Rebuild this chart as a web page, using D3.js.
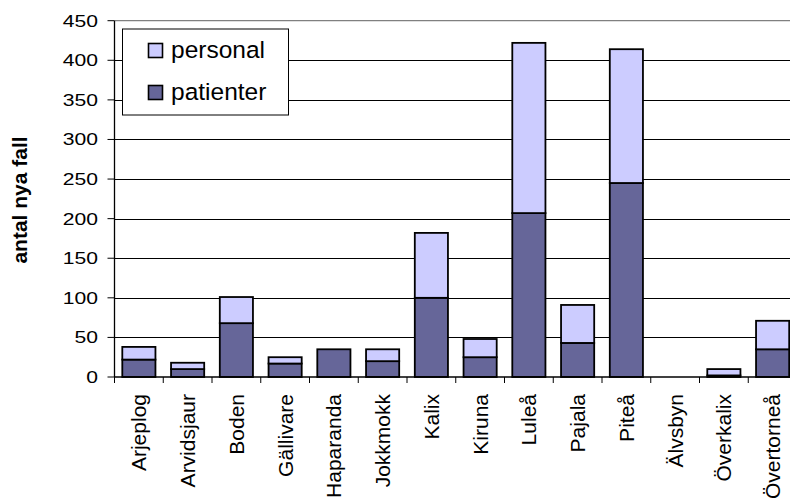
<!DOCTYPE html>
<html><head><meta charset="utf-8">
<script src="https://cdn.jsdelivr.net/npm/d3@7"></script>
<style>
html,body{margin:0;padding:0;background:#fff;overflow:hidden}
text{font-family:"Liberation Sans",Arial,sans-serif;fill:#000}
</style></head>
<body>
<svg id="chart" width="790" height="502"></svg>
<script>
const categories = ["Arjeplog","Arvidsjaur","Boden","Gällivare","Haparanda","Jokkmokk","Kalix","Kiruna","Luleå","Pajala","Piteå","Älvsbyn","Överkalix","Övertorneå"];
const patienter = [22,10,68,17,35,20,100,25,207,43,245,0,2,35];
const personal  = [16,8,33,8,0,15,82,23,215,48,169,0,8,36];
const yTicks = [0,50,100,150,200,250,300,350,400,450];
const seriesNames = ["personal","patienter"];
const colors = {patienter:"#666699", personal:"#CCCCFF"};

const svg = d3.select("#chart");
const pLeft = 114.5, pRight = 797, pTop = 20.7, pBottom = 377;

const x = d3.scaleBand().domain(categories).range([pLeft, pRight]).paddingInner(0.32).paddingOuter(0.16);
const y = d3.scaleLinear().domain([0,450]).range([pBottom, pTop]);

// gridlines
svg.append("g").selectAll("line").data(yTicks.filter(t => t > 0 && t < 450)).join("line")
  .attr("x1", pLeft).attr("x2", pRight)
  .attr("y1", d => Math.round(y(d)) + 0.5).attr("y2", d => Math.round(y(d)) + 0.5)
  .attr("stroke", "#000").attr("stroke-width", 1);
// plot area top border (gray)
svg.append("line").attr("x1", pLeft).attr("x2", pRight).attr("y1", y(450)).attr("y2", y(450))
  .attr("stroke", "#808080").attr("stroke-width", 1.3);

// stacked data
const rows = categories.map((c,i) => ({cat:c, patienter:patienter[i], personal:personal[i]}));
const stack = d3.stack().keys(["patienter","personal"])(rows);

const barG = svg.append("g");
stack.forEach(layer => {
  barG.append("g").selectAll("rect").data(layer.filter(d => d[1] - d[0] > 0)).join("rect")
    .attr("x", d => x(d.data.cat))
    .attr("width", x.bandwidth())
    .attr("y", d => y(d[1]))
    .attr("height", d => y(d[0]) - y(d[1]))
    .attr("fill", colors[layer.key])
    .attr("stroke", "#000").attr("stroke-width", 1.8);
});

// y axis
svg.append("line").attr("x1", pLeft).attr("x2", pLeft).attr("y1", pTop).attr("y2", pBottom)
  .attr("stroke","#000").attr("stroke-width",1.3);
svg.append("g").selectAll("line").data(yTicks).join("line")
  .attr("x1", pLeft - 7).attr("x2", pLeft).attr("y1", d => y(d)).attr("y2", d => y(d))
  .attr("stroke","#000").attr("stroke-width",1);
svg.append("g").selectAll("text").data(yTicks).join("text")
  .attr("transform", d => `translate(98,${y(d)}) scale(1.28,1)`)
  .attr("text-anchor","end").attr("dy","0.36em")
  .style("font-size","16.5px")
  .text(d => d);

// x axis
svg.append("line").attr("x1", pLeft).attr("x2", pRight).attr("y1", pBottom).attr("y2", pBottom)
  .attr("stroke","#000").attr("stroke-width",1.3);
const step = x.step();
svg.append("g").selectAll("line").data(d3.range(categories.length + 1)).join("line")
  .attr("x1", i => pLeft + i*step).attr("x2", i => pLeft + i*step)
  .attr("y1", pBottom).attr("y2", pBottom + 6)
  .attr("stroke","#000").attr("stroke-width",1);
svg.append("g").selectAll("text").data(categories).join("text")
  .attr("transform", d => `translate(${x(d) + x.bandwidth()/2},394) rotate(-90)`)
  .attr("text-anchor","end").attr("dy","0.36em")
  .style("font-size","21px")
  .text(d => d);

// y title
svg.append("text")
  .attr("transform","translate(27,200) rotate(-90)")
  .attr("text-anchor","middle")
  .style("font-size","21px").style("font-weight","bold")
  .text("antal nya fall");

// legend
const lg = svg.append("g");
lg.append("rect").attr("x",122.5).attr("y",29).attr("width",166).attr("height",86)
  .attr("fill","#fff").attr("stroke","#000").attr("stroke-width",1);
seriesNames.forEach((s,i) => {
  const cy = 50.5 + i*42;
  lg.append("rect").attr("x",148.5).attr("y",cy-7).attr("width",14).attr("height",14)
    .attr("fill",colors[s]).attr("stroke","#000").attr("stroke-width",1.6);
  lg.append("text").attr("x",171).attr("y",cy + 7.5)
    .style("font-size","24.5px").text(s);
});
</script>
</body></html>
